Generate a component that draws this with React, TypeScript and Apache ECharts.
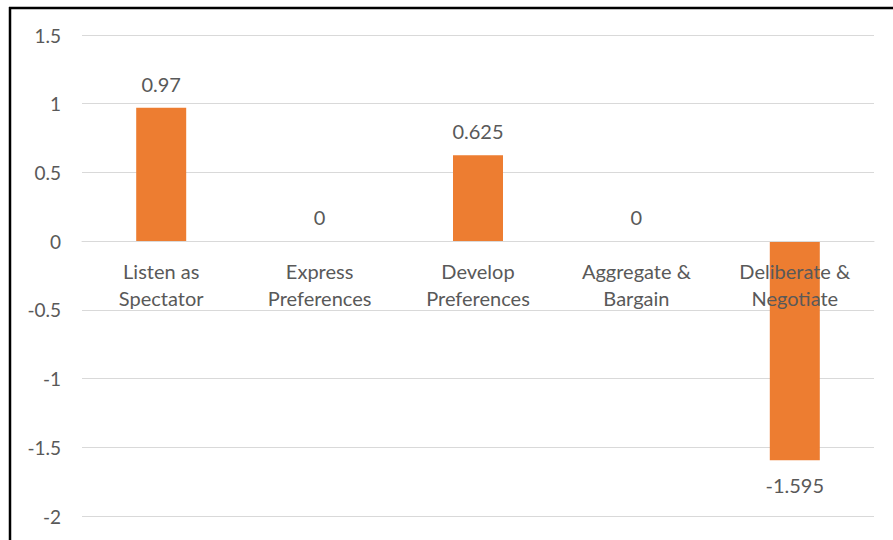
import React, { useEffect, useRef } from "react";
import * as echarts from "echarts";

const categories = [
  "Listen as\nSpectator",
  "Express\nPreferences",
  "Develop\nPreferences",
  "Aggregate &\nBargain",
  "Deliberate &\nNegotiate",
];
const values = [0.97, 0, 0.625, 0, -1.595];

const FONT = "Lato, 'Open Sans', sans-serif";
const TEXT = "#595959";
const GRID = "#d9d9d9";
const BAR = "#ED7D31";

const GRID_TOP = 35;
const GRID_BOTTOM = 24;
const Y_MIN = -2;
const Y_MAX = 1.5;

export default function App() {
  const ref = useRef<HTMLDivElement>(null);

  useEffect(() => {
    if (!ref.current) return;
    const chart = echarts.init(ref.current, undefined, { renderer: "svg" });
    // the category axis sits on the zero line, lifted up from the grid bottom
    const plotHeight = 540 - GRID_TOP - GRID_BOTTOM;
    const zeroLift = (plotHeight * (0 - Y_MIN)) / (Y_MAX - Y_MIN);
    chart.setOption({
      animation: false,
      backgroundColor: "#ffffff",
      textStyle: { fontFamily: FONT },
      grid: {
        left: 82,
        right: 19,
        top: GRID_TOP,
        bottom: GRID_BOTTOM,
        outerBoundsMode: "none",
        containLabel: false,
      },
      xAxis: {
        type: "category",
        data: categories,
        z: 10,
        offset: -zeroLift,
        axisLine: { onZero: false, lineStyle: { color: GRID, width: 1 } },
        axisTick: { show: false },
        axisLabel: {
          color: TEXT,
          fontSize: 20,
          fontFamily: FONT,
          lineHeight: 27,
          margin: 16,
          interval: 0,
        },
      },
      yAxis: {
        type: "value",
        min: Y_MIN,
        max: Y_MAX,
        interval: 0.5,
        axisLine: { show: false },
        axisTick: { show: false },
        splitLine: { lineStyle: { color: GRID, width: 1 } },
        axisLabel: { color: TEXT, fontSize: 19, fontFamily: FONT, margin: 21 },
      },
      series: [
        {
          type: "bar",
          barWidth: 50,
          itemStyle: { color: BAR },
          label: {
            show: true,
            position: "top",
            distance: 14,
            color: TEXT,
            fontSize: 20,
            fontFamily: FONT,
            formatter: (p: any) => String(p.value),
          },
          // negative values carry their label beneath the bar
          data: values.map((v) =>
            v < 0
              ? { value: v, label: { position: "bottom", distance: 15 } }
              : { value: v }
          ),
        },
      ],
      graphic: [
        {
          type: "line",
          shape: { x1: 10, y1: 7, x2: 10, y2: 540 },
          style: { stroke: "#000", lineWidth: 2.5 },
          z: 100,
        },
        {
          type: "line",
          shape: { x1: 9, y1: 8, x2: 893, y2: 8 },
          style: { stroke: "#000", lineWidth: 2.5 },
          z: 100,
        },
      ],
    });
    return () => chart.dispose();
  }, []);

  return (
    <div
      ref={ref}
      style={{ position: "fixed", left: 0, top: 0, width: 893, height: 540 }}
    />
  );
}
